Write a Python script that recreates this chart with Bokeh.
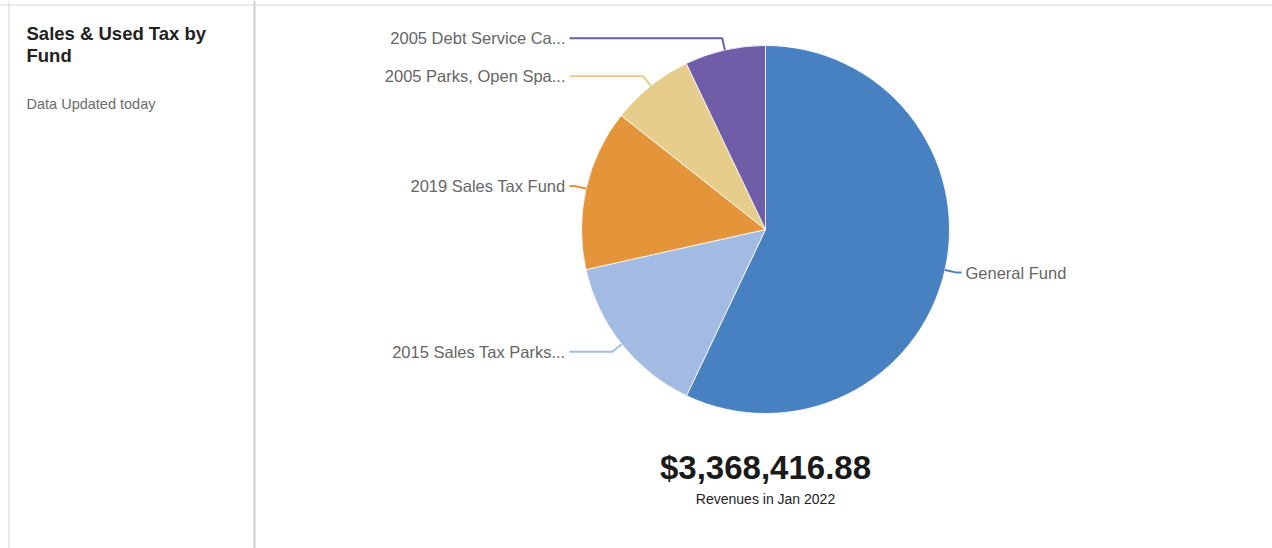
import numpy as np
from bokeh.plotting import figure
from bokeh.models import ColumnDataSource, Label, Span, Range1d
from bokeh.core.properties import value
from bokeh.embed import file_html
from bokeh.resources import INLINE

# ---- data ----
funds = ["General Fund", "2015 Sales Tax Parks...", "2019 Sales Tax Fund",
         "2005 Parks, Open Spa...", "2005 Debt Service Ca..."]
revenues = [1922000.00, 486400.00, 476300.00, 245200.00, 238516.88]
colors = ["#4781c1", "#a3bbe3", "#e4953a", "#e7cd8b", "#6f5ea7"]
title_lines = ["Sales & Used Tax by", "Fund"]
subtitle = "Data Updated today"
caption = "Revenues in Jan 2022"

# ---- layout (pixel coordinates) ----
W, H = 1272, 548
FONT = "Liberation Sans"


def sx(x):
    return x


def sy(y):
    return H - y


cx, cy, R = sx(765), sy(229), 184
GAP = 12

total = float(sum(revenues))
frac = np.array(revenues) / total
theta = 2 * np.pi * frac
cum = np.cumsum(theta)
start = cum - theta
end = cum
mid = (start + end) / 2

ex = cx + R * np.sin(mid)
ey = cy + R * np.cos(mid)
bx = cx + (R + GAP) * np.sin(mid)
by = cy + (R + GAP) * np.cos(mid)
side = np.where(np.sin(mid) >= 0, 1, -1)
lx = cx + side * (R + GAP)
tx = lx + side * 4
align = ["left" if s > 0 else "right" for s in side]

wedge_src = ColumnDataSource(dict(
    fund=funds, rev=revenues, color=colors,
    start=np.pi / 2 - start, end=np.pi / 2 - end,
))
lead_src = ColumnDataSource(dict(
    xs=[[ex[i], bx[i], lx[i]] for i in range(len(funds))],
    ys=[[ey[i], by[i], by[i]] for i in range(len(funds))],
    color=colors,
))
text_src = ColumnDataSource(dict(x=tx, y=by, text=funds, align=align))

p = figure(width=W, height=H, output_backend="svg", toolbar_location=None,
           x_range=Range1d(0, W), y_range=Range1d(0, H),
           x_axis_type=None, y_axis_type=None, min_border=0)
p.grid.visible = False
p.outline_line_color = None
p.background_fill_color = "white"
p.border_fill_color = "white"

# card borders
p.add_layout(Span(location=sy(4.5), dimension="width", line_color="#d5d9dd", line_width=1))
p.add_layout(Span(location=sx(8.5), dimension="height", line_color="#d5d9dd", line_width=1))
p.add_layout(Span(location=sx(254), dimension="height", line_color="#cdd1d5", line_width=2))

p.wedge(x=cx, y=cy, radius=R, start_angle="start", end_angle="end",
        direction="clock", fill_color="color", line_color="white",
        line_width=0.8, source=wedge_src)

p.multi_line(xs="xs", ys="ys", line_color="color", line_width=2, source=lead_src)
p.text(x="x", y="y", text="text", text_align="align", text_baseline="middle",
       text_font=value(FONT), text_font_size="16.5px", text_color="#666666",
       source=text_src)

# left panel texts
p.add_layout(Label(x=sx(26), y=sy(33), text=title_lines[0], text_font=FONT,
                   text_font_size="18.5px", text_font_style="bold",
                   text_color="#222222", text_baseline="middle"))
p.add_layout(Label(x=sx(26), y=sy(55), text=title_lines[1], text_font=FONT,
                   text_font_size="18.5px", text_font_style="bold",
                   text_color="#222222", text_baseline="middle"))
p.add_layout(Label(x=sx(26), y=sy(103), text=subtitle, text_font=FONT,
                   text_font_size="14.5px", text_color="#6b6b6b",
                   text_baseline="middle"))

# total
p.add_layout(Label(x=cx, y=sy(467), text=f"${total:,.2f}", text_font=FONT,
                   text_font_size="33px", text_font_style="bold",
                   text_color="#1a1a1a", text_align="center",
                   text_baseline="middle"))
p.add_layout(Label(x=cx, y=sy(498), text=caption, text_font=FONT,
                   text_font_size="14px", text_color="#222222",
                   text_align="center", text_baseline="middle"))

open("out.html", "w").write(file_html(p, INLINE))
